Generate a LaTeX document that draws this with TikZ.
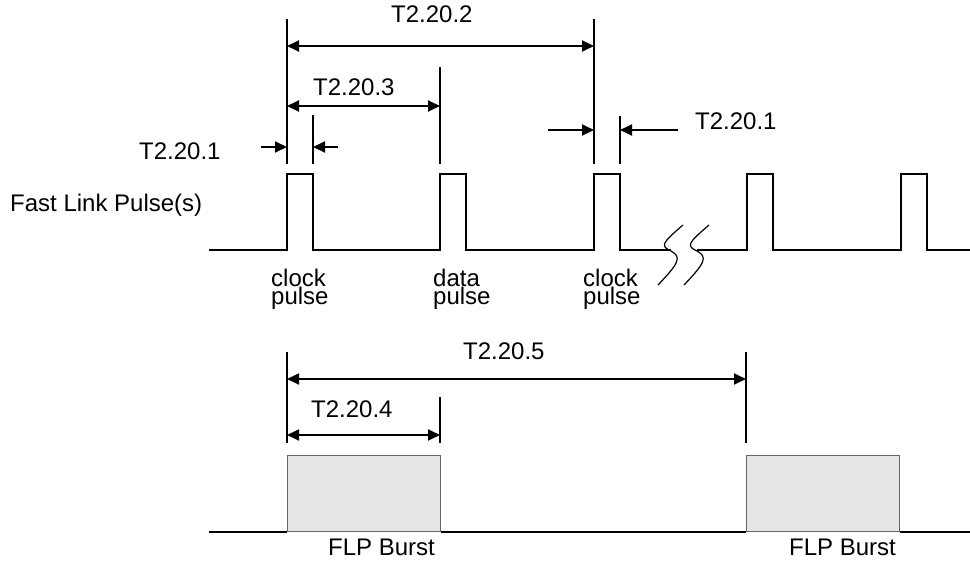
\documentclass[tikz,border=0pt]{standalone}
\usepackage{fontspec}
\setmainfont{Liberation Sans}
\usetikzlibrary{arrows.meta}
\tikzset{
signal/.style={line width=1.8pt},
extline/.style={line width=1.8pt},
breakline/.style={line width=1.2pt},
dimarrow/.style={line width=1.8pt,{Triangle[length=12pt,width=11pt]}-{Triangle[length=12pt,width=11pt]}},
arrow/.style={line width=1.8pt,-{Triangle[length=12pt,width=11pt]}},
burst/.style={rectangle, draw=black!60, line width=0.8pt, fill=black!10, minimum width=153pt, minimum height=76pt, anchor=south west, inner sep=0pt},
txt/.style={inner sep=0pt, anchor=base west, align=left, font=\fontsize{24}{18}\selectfont}}

\begin{document}
\begin{tikzpicture}[x=1pt,y=-1pt]
\useasboundingbox (0,0) rectangle (970,562);

% fast link pulses
\coordinate (start) at (209,250);
\coordinate (clkA) at (287,250);
\coordinate (data) at (440,250);
\coordinate (clkB) at (594,250);
\coordinate (brkA) at (671,250);
\coordinate (brkB) at (697,250);
\coordinate (pulD) at (747,250);
\coordinate (pulE) at (901,250);
\coordinate (stop) at (970,250);
\draw [signal] (start) -- (clkA) -- ++(0,-76) -- ++(26,0) -- ++(0,76) -- (data) -- ++(0,-76) -- ++(26,0) -- ++(0,76) -- (clkB) -- ++(0,-76) -- ++(26,0) -- ++(0,76) -- (brkA);
\draw [signal] (brkB) -- (pulD) -- ++(0,-76) -- ++(26,0) -- ++(0,76) -- (pulE) -- ++(0,-76) -- ++(26,0) -- ++(0,76) -- (stop);
\foreach \dx in {0,26}
  \draw [breakline, xshift=\dx pt] (683,225) .. controls (662,243) and (660,246) .. (671,251) .. controls (682,257) and (679,263) .. (658,285);

\node (flp) [txt] at (10,211) {Fast Link Pulse(s)};
\node (clkAtxt) [txt] at (271,304) {clock\\pulse};
\node (datatxt) [txt] at (433,304) {data\\pulse};
\node (clkBtxt) [txt] at (583,304) {clock\\pulse};

% marker lines above the pulses
\coordinate (tick) at (0,164);
\coordinate (mA) at (287,19);
\coordinate (mB) at (313,115);
\coordinate (mC) at (440,67);
\coordinate (mD) at (594,19);
\coordinate (mE) at (620,116);
\foreach \m in {mA,mB,mC,mD,mE}
  \draw [extline] (\m) -- (\m |- tick);

\coordinate (dA) at (287,46);
\coordinate (dB) at (287,106);
\draw [dimarrow] (dA) -- (mD |- dA);
\draw [dimarrow] (dB) -- (mC |- dB);
\coordinate (inA) at (261,147);
\coordinate (inB) at (338,147);
\coordinate (inC) at (548,130);
\coordinate (inD) at (678,130);
\draw [arrow] (inA) -- (mA |- inA);
\draw [arrow] (inB) -- (mB |- inB);
\draw [arrow] (inC) -- (mD |- inC);
\draw [arrow] (inD) -- (mE |- inD);

\node (tA) [txt] at (391,23) {T2.20.2};
\node (tB) [txt] at (313,95) {T2.20.3};
\node (tC) [txt] at (139,159) {T2.20.1};
\node (tD) [txt] at (695,129) {T2.20.1};

% FLP bursts
\node (burstA) [burst] at (287,532) {};
\node (burstB) [burst] at (746,532) {};
\coordinate (lowStart) at (209,532);
\coordinate (lowStop) at (970,532);
\draw [signal] (lowStart) -- (burstA.south west);
\draw [signal] (burstA.south east) -- (burstB.south west);
\draw [signal] (burstB.south east) -- (lowStop);
\node (burstAtxt) [txt] at (328,555) {FLP Burst};
\node (burstBtxt) [txt] at (789,555) {FLP Burst};

\coordinate (tickB) at (0,443);
\coordinate (mF) at (287,352);
\coordinate (mG) at (440,397);
\coordinate (mH) at (746,352);
\foreach \m in {mF,mG,mH}
  \draw [extline] (\m) -- (\m |- tickB);
\coordinate (dC) at (287,379);
\coordinate (dD) at (287,435);
\draw [dimarrow] (dC) -- (mH |- dC);
\draw [dimarrow] (dD) -- (mG |- dD);

\node (tE) [txt] at (463,359) {T2.20.5};
\node (tF) [txt] at (311,417) {T2.20.4};
\end{tikzpicture}
\end{document}
